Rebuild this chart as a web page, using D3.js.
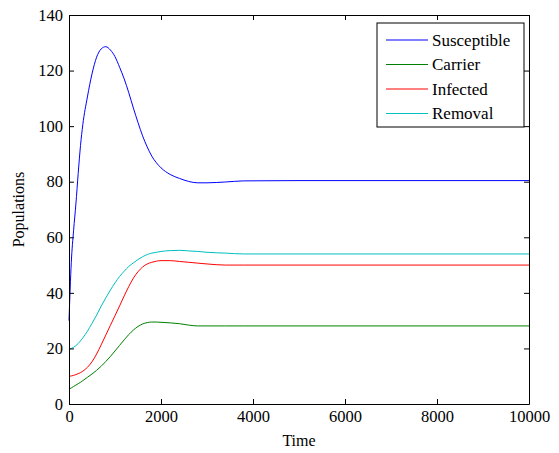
<!DOCTYPE html>
<html>
<head>
<meta charset="utf-8">
<script src="https://cdn.jsdelivr.net/npm/d3@7"></script>
<style>
  body { margin: 0; background: #fff; }
</style>
</head>
<body>
<script>
// time grid shared by all series
const time = [0, 50, 100, 150, 200, 250, 300, 400, 500, 600, 700, 800, 900, 1000, 1100, 1200, 1300, 1400, 1500, 1600, 1700, 1800, 1900, 2000, 2200, 2400, 2600, 2800, 3000, 3400, 3800, 5000, 10000];
const susceptible = [30, 51, 62.5, 72, 83, 93, 100.5, 110.5, 118.8, 124.8, 127.8, 128.6, 127.4, 125, 121.2, 117, 112, 106.5, 101.3, 96.5, 92.5, 89.2, 86.8, 85, 82.6, 81.2, 80.1, 79.6, 79.6, 79.9, 80.3, 80.4, 80.4];
const carrier = [5.3, 5.8, 6.3, 6.8, 7.3, 7.8, 8.4, 9.6, 10.8, 12.1, 13.6, 15.3, 17.1, 19.1, 21.1, 23.1, 25, 26.6, 27.9, 28.8, 29.3, 29.5, 29.5, 29.4, 29.2, 28.9, 28.4, 28.1, 28.1, 28.1, 28.1, 28.1, 28.1];
const infected = [10, 10.1, 10.3, 10.6, 10.9, 11.3, 11.8, 13.2, 15.2, 18, 21.3, 24.8, 28.3, 31.8, 35.3, 38.9, 42.3, 45.3, 47.6, 49.3, 50.4, 51, 51.4, 51.6, 51.6, 51.3, 51, 50.7, 50.4, 50, 50, 50, 50];
const removal = [19.7, 20, 20.4, 21, 21.8, 22.7, 23.8, 26.2, 29, 32, 35.2, 38.2, 41, 43.6, 45.9, 47.8, 49.5, 50.8, 52, 53, 53.8, 54.3, 54.6, 54.9, 55.2, 55.3, 55.1, 54.9, 54.6, 54.3, 54, 54, 54];

const seriesNames = ["Susceptible", "Carrier", "Infected", "Removal"];
const seriesValues = [susceptible, carrier, infected, removal];
const colors = ["#0000ff", "#008000", "#ff0000", "#00bfbf"];

const xTicks = [0, 2000, 4000, 6000, 8000, 10000];
const yTicks = [0, 20, 40, 60, 80, 100, 120, 140];

const width = 559, height = 453;
const margin = { left: 69, right: 30, top: 15, bottom: 49 };
const serif = "'Liberation Serif', 'DejaVu Serif', serif";

const svg = d3.select("body").append("svg")
  .attr("width", width)
  .attr("height", height)
  .style("font-family", serif);

const x = d3.scaleLinear().domain([0, 10000]).range([margin.left, width - margin.right]);
const y = d3.scaleLinear().domain([0, 140]).range([height - margin.bottom, margin.top]);

// lines first, axes box drawn on top
const line = d3.line()
  .x((d, i) => x(time[i]))
  .y(d => y(d))
  .curve(d3.curveMonotoneX);

svg.append("g").selectAll("path")
  .data(seriesValues)
  .enter()
  .append("path")
  .attr("fill", "none")
  .attr("stroke", (d, i) => colors[i])
  .attr("stroke-width", 1)
  .attr("d", line);

// axes (ticks pointing inward, mirrored on top/right)
const styleAxis = g => {
  g.attr("font-family", null).attr("font-size", null);
  g.select(".domain").attr("stroke", "#000");
  g.selectAll(".tick line").attr("stroke", "#000");
  g.selectAll("text")
    .attr("fill", "#000")
    .style("font-family", serif)
    .style("font-size", "16.5px");
};

svg.append("g")
  .attr("transform", `translate(0,${y(0)})`)
  .call(d3.axisBottom(x).tickValues(xTicks).tickFormat(d3.format("d")).tickSizeInner(-5).tickSizeOuter(0).tickPadding(6))
  .call(styleAxis);

svg.append("g")
  .attr("transform", `translate(${x(0)},0)`)
  .call(d3.axisLeft(y).tickValues(yTicks).tickFormat(d3.format("d")).tickSizeInner(-5).tickSizeOuter(0).tickPadding(6))
  .call(styleAxis);

svg.append("g")
  .attr("transform", `translate(0,${y(140)})`)
  .call(d3.axisTop(x).tickValues(xTicks).tickFormat("").tickSizeInner(-5).tickSizeOuter(0))
  .call(styleAxis);

svg.append("g")
  .attr("transform", `translate(${x(10000)},0)`)
  .call(d3.axisRight(y).tickValues(yTicks).tickFormat("").tickSizeInner(-5).tickSizeOuter(0))
  .call(styleAxis);

// axis labels
svg.append("text")
  .attr("x", (x(0) + x(10000)) / 2)
  .attr("y", 446)
  .attr("text-anchor", "middle")
  .style("font-family", serif)
  .style("font-size", "16px")
  .text("Time");

svg.append("text")
  .attr("transform", `translate(24,${(y(0) + y(140)) / 2}) rotate(-90)`)
  .attr("text-anchor", "middle")
  .style("font-family", serif)
  .style("font-size", "16px")
  .text("Populations");

// legend
const legend = svg.append("g").attr("transform", "translate(377,23)");
legend.append("rect")
  .attr("width", 147)
  .attr("height", 104)
  .attr("fill", "#fff")
  .attr("stroke", "#000")
  .attr("stroke-width", 1);

const items = legend.selectAll("g.item")
  .data(seriesNames)
  .enter()
  .append("g")
  .attr("class", "item")
  .attr("transform", (d, i) => `translate(0,${17 + i * 24.5})`);

items.append("line")
  .attr("x1", 9).attr("x2", 51)
  .attr("stroke", (d, i) => colors[i])
  .attr("stroke-width", 1);

items.append("text")
  .attr("x", 55)
  .attr("dy", "0.35em")
  .style("font-family", serif)
  .style("font-size", "17px")
  .text(d => d);
</script>
</body>
</html>
